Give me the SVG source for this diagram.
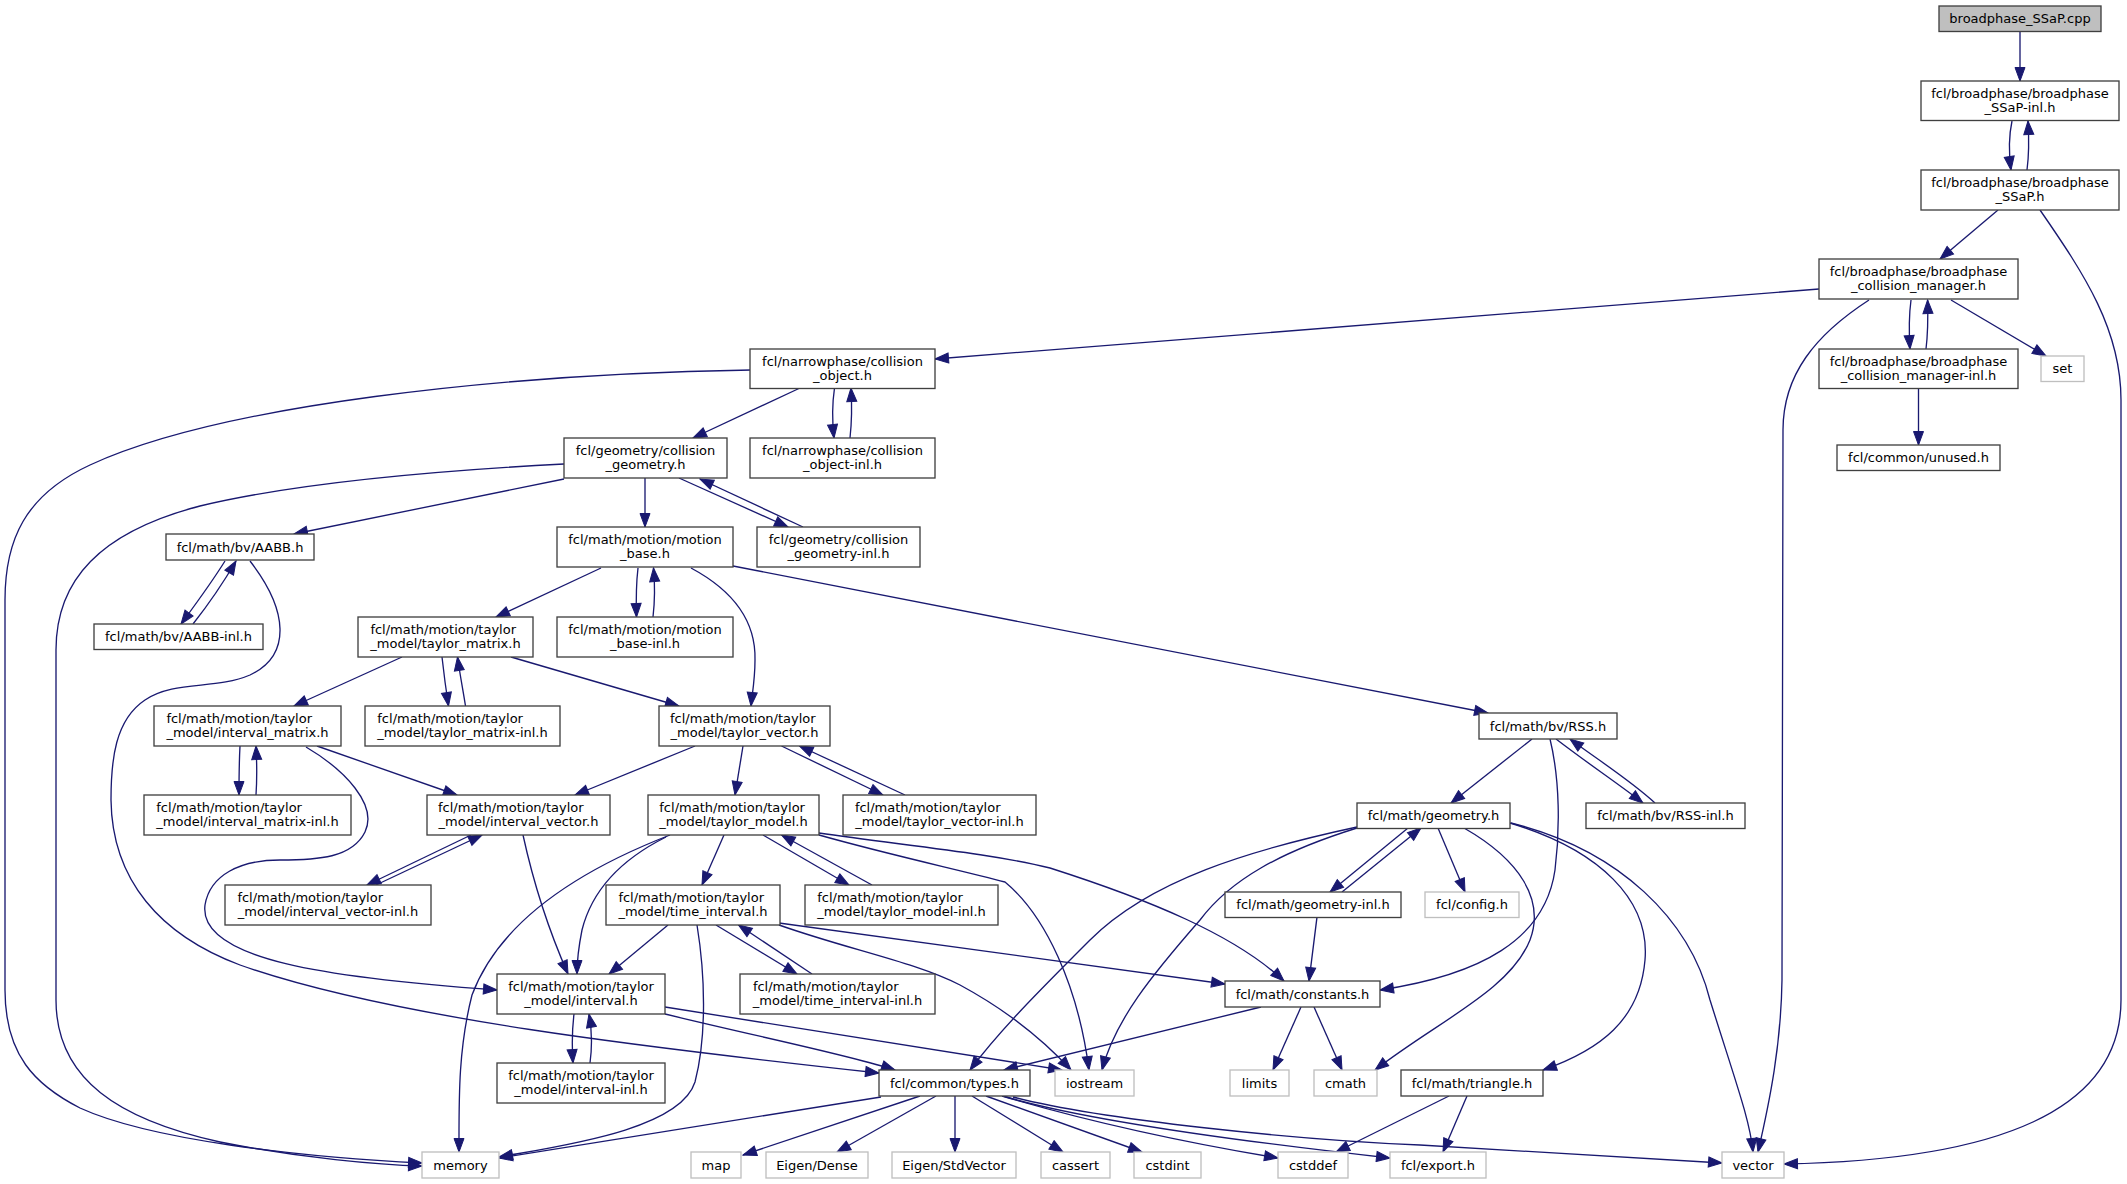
<svg xmlns="http://www.w3.org/2000/svg" width="2127" height="1184" viewBox="0 0 2127 1184">
<style>
.n rect{fill:#fff;stroke:#404040;stroke-width:1.33}
.x rect{fill:#fff;stroke:#bfbfbf;stroke-width:1.33}
.r rect{fill:#bfbfbf;stroke:#404040;stroke-width:1.33}
text{font-family:"DejaVu Sans",sans-serif;font-size:13px;fill:#000;text-anchor:middle}
text.s{text-anchor:start}
#edges path{fill:none;stroke:#191970;stroke-width:1.33;marker-end:url(#ah)}
</style>
<defs>
<marker id="ah" markerUnits="userSpaceOnUse" markerWidth="16" markerHeight="12" viewBox="-1 -1 16 12" refX="13.5" refY="5" orient="auto">
<path d="M0,0 L13.5,5 L0,10 z" fill="#191970" stroke="#191970" stroke-width="1"/>
</marker>
</defs>
<rect width="2127" height="1184" fill="#fff"/>
<g id="edges">
<path d="M2020,31 L2020,81"/>
<path d="M2012,121 C2009,135 2009,155 2011,170"/>
<path d="M2027,170 C2029,155 2029,138 2028,121"/>
<path d="M1998,210 L1940,259"/>
<path d="M2040,210 C2085,275 2121,330 2121,400 L2121,1000 C2121,1110 2000,1160 1784,1164"/>
<path d="M1819,289 L935,359"/>
<path d="M1869,300 C1815,335 1783,375 1783,430 L1782,980 C1781,1045 1770,1100 1758,1152"/>
<path d="M1911,300 C1909,315 1909,333 1910,349"/>
<path d="M1926,349 C1928,333 1928,315 1927.6,300"/>
<path d="M1951,300 L2046,356"/>
<path d="M1918.5,388 L1918.5,445"/>
<path d="M751,370 C500,374 220,405 90,465 C25,495 5,540 5,600 L5,990 C5,1055 35,1085 80,1108 C150,1140 300,1157 422,1163"/>
<path d="M800,388 L693,438"/>
<path d="M834.5,388 C832,405 832,420 834,438"/>
<path d="M850,438 C852,420 852,405 851,388"/>
<path d="M564,464 C450,470 300,482 200,506 C100,532 56,580 56,650 L56,1000 C56,1080 120,1120 220,1142 C300,1158 380,1165 422,1166"/>
<path d="M564,479 L294,534"/>
<path d="M645,478 L645,527"/>
<path d="M679,478 L788,527"/>
<path d="M803,527 L700,479"/>
<path d="M225,561 C210,585 195,605 181,624"/>
<path d="M193,624 C208,605 222,585 236,561"/>
<path d="M250,561 C288,610 292,655 250,675 C215,690 175,680 145,700 C115,720 111,760 111,800 C112,880 160,935 240,965 C390,1018 650,1048 879,1073"/>
<path d="M601,568 L496,617"/>
<path d="M638,568 C636,585 636,600 636.5,617"/>
<path d="M653,617 C655,600 655,585 653.5,568"/>
<path d="M691,568 C732,590 756,620 755,660 C755,680 752,695 751,706"/>
<path d="M733,566 L1488,713"/>
<path d="M402,657 L294,706"/>
<path d="M442,657 C444,675 446,690 448.5,706"/>
<path d="M465.5,706 C463,690 460,675 457.5,657"/>
<path d="M511,657 L679,706"/>
<path d="M240,746 C239,765 239,780 239,795"/>
<path d="M256,795 C257,780 257,765 256,746"/>
<path d="M317,746 L457,795"/>
<path d="M306,747 C345,770 378,805 365,832 C352,858 318,860 280,860 C240,860 210,875 205,905 C198,960 330,978 497,990"/>
<path d="M695,746 L575,795"/>
<path d="M743,746 L735,795"/>
<path d="M781.5,746 L883,795"/>
<path d="M905,795 L799.5,746"/>
<path d="M471,835 L367,885"/>
<path d="M376,885 L482,835"/>
<path d="M523,835 C535,890 553,940 568,974"/>
<path d="M670,835 C580,870 500,920 472,995 C458,1050 459,1100 459,1152"/>
<path d="M666,837 C620,860 592,890 582,930 C578,950 577,960 577,974"/>
<path d="M724,835 L702,885"/>
<path d="M763,835 L849,885"/>
<path d="M872,885 L781.5,835"/>
<path d="M819,835 C890,855 960,870 1005,882 C1045,915 1078,985 1089,1070"/>
<path d="M819,833 C900,845 990,853 1050,868 C1150,900 1235,935 1284,981"/>
<path d="M668,925 L609,974"/>
<path d="M697,925 C706,980 706,1040 695,1082 C680,1130 560,1146 499,1157"/>
<path d="M716,925 L797,974"/>
<path d="M812,974 L738.5,925"/>
<path d="M779,925 C850,950 915,962 960,985 C1010,1012 1048,1045 1071,1070"/>
<path d="M779,923 L1225,984"/>
<path d="M574,1014 C572,1030 572,1048 573,1063"/>
<path d="M590,1063 C592,1048 592,1030 589,1014"/>
<path d="M665,1007 L1062,1070"/>
<path d="M665,1014 C750,1035 850,1055 895,1070"/>
<path d="M1532,739 L1451,803"/>
<path d="M1550,739 C1560,780 1560,830 1555,870 C1545,940 1480,975 1380,990"/>
<path d="M1556,739 C1590,765 1620,785 1643,803"/>
<path d="M1655,803 C1630,780 1598,760 1570,739"/>
<path d="M1357,827 C1250,850 1150,880 1090,940 C1040,990 1000,1030 970,1070"/>
<path d="M1357,828 C1280,852 1230,880 1200,920 C1152,975 1115,1020 1102,1070"/>
<path d="M1408,828 L1330,892"/>
<path d="M1342,892 L1421,828"/>
<path d="M1438,828 L1465,892"/>
<path d="M1464,828 C1520,860 1545,900 1530,940 C1510,990 1440,1020 1375,1070"/>
<path d="M1510,823 C1600,850 1650,900 1645,960 C1640,1020 1600,1050 1543,1070"/>
<path d="M1511,823 C1620,850 1690,920 1710,1000 C1735,1080 1750,1120 1753,1152"/>
<path d="M1317,917 L1309,981"/>
<path d="M1261,1007 L1004,1070"/>
<path d="M1301,1007 L1273,1070"/>
<path d="M1314,1007 L1342,1070"/>
<path d="M1449,1096 L1336,1152"/>
<path d="M1467,1096 L1443,1152"/>
<path d="M881,1097 L499,1158"/>
<path d="M920,1096 L743,1155"/>
<path d="M936,1096 L837,1152"/>
<path d="M955,1096 L955,1152"/>
<path d="M972,1096 L1063,1152"/>
<path d="M986,1096 L1142,1152"/>
<path d="M1002,1096 C1100,1125 1200,1145 1278,1158"/>
<path d="M1003,1096 C1100,1125 1300,1148 1390,1158"/>
<path d="M1013,1097 C1100,1120 1300,1140 1420,1145 C1550,1152 1650,1158 1722,1163"/>
</g>
<g id="n1" class="r"><rect x="1939" y="6" width="162" height="25.5"/><text x="2020" y="23">broadphase_SSaP.cpp</text></g>
<g id="n2" class="n"><rect x="1921" y="81" width="198" height="39.5"/><text x="2020" y="97.5">fcl/broadphase/broadphase</text><text x="2020" y="111.5">_SSaP-inl.h</text></g>
<g id="n3" class="n"><rect x="1921" y="170" width="198" height="40"/><text x="2020" y="187">fcl/broadphase/broadphase</text><text x="2020" y="201">_SSaP.h</text></g>
<g id="n4" class="n"><rect x="1819" y="259" width="199" height="40"/><text x="1918.5" y="276">fcl/broadphase/broadphase</text><text x="1918.5" y="290">_collision_manager.h</text></g>
<g id="n5" class="n"><rect x="1819" y="349" width="199" height="39.5"/><text x="1918.5" y="365.5">fcl/broadphase/broadphase</text><text x="1918.5" y="379.5">_collision_manager-inl.h</text></g>
<g id="n6" class="x"><rect x="2041" y="356" width="43" height="25.5"/><text x="2062.5" y="373">set</text></g>
<g id="n7" class="n"><rect x="1837" y="445" width="163" height="25.5"/><text x="1918.5" y="462">fcl/common/unused.h</text></g>
<g id="n8" class="n"><rect x="750" y="349" width="185" height="39.5"/><text x="842.5" y="365.5">fcl/narrowphase/collision</text><text x="842.5" y="379.5">_object.h</text></g>
<g id="n9" class="n"><rect x="750" y="438" width="185" height="40"/><text x="842.5" y="455">fcl/narrowphase/collision</text><text x="842.5" y="469">_object-inl.h</text></g>
<g id="n10" class="n"><rect x="564" y="438" width="163" height="40"/><text x="645.5" y="455">fcl/geometry/collision</text><text x="645.5" y="469">_geometry.h</text></g>
<g id="n11" class="n"><rect x="757" y="527" width="163" height="40"/><text x="838.5" y="544">fcl/geometry/collision</text><text x="838.5" y="558">_geometry-inl.h</text></g>
<g id="n12" class="n"><rect x="557" y="527" width="176" height="40"/><text x="645" y="544">fcl/math/motion/motion</text><text x="645" y="558">_base.h</text></g>
<g id="n13" class="n"><rect x="166" y="534" width="148" height="26"/><text x="240" y="551.5">fcl/math/bv/AABB.h</text></g>
<g id="n14" class="n"><rect x="94" y="624" width="169" height="25.5"/><text x="178.5" y="641">fcl/math/bv/AABB-inl.h</text></g>
<g id="n15" class="n"><rect x="557" y="617" width="176" height="40"/><text x="645" y="634">fcl/math/motion/motion</text><text x="645" y="648">_base-inl.h</text></g>
<g id="n16" class="n"><rect x="358" y="617" width="175" height="40"/><text class="s" x="370.4" y="634">fcl/math/motion/taylor</text><text x="445.5" y="648">_model/taylor_matrix.h</text></g>
<g id="n17" class="n"><rect x="154" y="706" width="187" height="40"/><text class="s" x="166.4" y="723">fcl/math/motion/taylor</text><text x="247.5" y="737">_model/interval_matrix.h</text></g>
<g id="n18" class="n"><rect x="365" y="706" width="195" height="40"/><text class="s" x="377.3" y="723">fcl/math/motion/taylor</text><text x="462.5" y="737">_model/taylor_matrix-inl.h</text></g>
<g id="n19" class="n"><rect x="659" y="706" width="171" height="40"/><text class="s" x="670" y="723">fcl/math/motion/taylor</text><text x="744.5" y="737">_model/taylor_vector.h</text></g>
<g id="n20" class="n"><rect x="1479" y="713" width="138" height="26"/><text x="1548" y="730.5">fcl/math/bv/RSS.h</text></g>
<g id="n21" class="n"><rect x="144" y="795" width="207" height="40"/><text class="s" x="156.3" y="812">fcl/math/motion/taylor</text><text x="247.5" y="826">_model/interval_matrix-inl.h</text></g>
<g id="n22" class="n"><rect x="427" y="795" width="183" height="40"/><text class="s" x="438" y="812">fcl/math/motion/taylor</text><text x="518.5" y="826">_model/interval_vector.h</text></g>
<g id="n23" class="n"><rect x="648" y="795" width="171" height="40"/><text class="s" x="659.3" y="812">fcl/math/motion/taylor</text><text x="733.5" y="826">_model/taylor_model.h</text></g>
<g id="n24" class="n"><rect x="843" y="795" width="193" height="40"/><text class="s" x="854.9" y="812">fcl/math/motion/taylor</text><text x="939.5" y="826">_model/taylor_vector-inl.h</text></g>
<g id="n25" class="n"><rect x="1357" y="803" width="153" height="25.5"/><text x="1433.5" y="820">fcl/math/geometry.h</text></g>
<g id="n26" class="n"><rect x="1586" y="803" width="159" height="25.5"/><text x="1665.5" y="820">fcl/math/bv/RSS-inl.h</text></g>
<g id="n27" class="n"><rect x="225" y="885" width="206" height="40"/><text class="s" x="237.4" y="902">fcl/math/motion/taylor</text><text x="328" y="916">_model/interval_vector-inl.h</text></g>
<g id="n28" class="n"><rect x="606" y="885" width="174" height="40"/><text class="s" x="618.4" y="902">fcl/math/motion/taylor</text><text x="693" y="916">_model/time_interval.h</text></g>
<g id="n29" class="n"><rect x="805" y="885" width="193" height="40"/><text class="s" x="817.2" y="902">fcl/math/motion/taylor</text><text x="901.5" y="916">_model/taylor_model-inl.h</text></g>
<g id="n30" class="n"><rect x="1225" y="892" width="176" height="25.5"/><text x="1313" y="909">fcl/math/geometry-inl.h</text></g>
<g id="n31" class="x"><rect x="1425" y="892" width="94" height="25.5"/><text x="1472" y="909">fcl/config.h</text></g>
<g id="n32" class="n"><rect x="497" y="974" width="168" height="40"/><text x="581" y="991">fcl/math/motion/taylor</text><text x="581" y="1005">_model/interval.h</text></g>
<g id="n33" class="n"><rect x="740" y="974" width="195" height="40"/><text class="s" x="752.9" y="991">fcl/math/motion/taylor</text><text x="837.5" y="1005">_model/time_interval-inl.h</text></g>
<g id="n34" class="n"><rect x="1225" y="981" width="155" height="26"/><text x="1302.5" y="998.5">fcl/math/constants.h</text></g>
<g id="n35" class="n"><rect x="497" y="1063" width="168" height="40"/><text x="581" y="1080">fcl/math/motion/taylor</text><text x="581" y="1094">_model/interval-inl.h</text></g>
<g id="n36" class="n"><rect x="879" y="1070" width="151" height="26"/><text x="954.5" y="1087.5">fcl/common/types.h</text></g>
<g id="n37" class="x"><rect x="1055" y="1070" width="79" height="26"/><text x="1094.5" y="1087.5">iostream</text></g>
<g id="n38" class="x"><rect x="1230" y="1070" width="59" height="26"/><text x="1259.5" y="1087.5">limits</text></g>
<g id="n39" class="x"><rect x="1314" y="1070" width="63" height="26"/><text x="1345.5" y="1087.5">cmath</text></g>
<g id="n40" class="n"><rect x="1401" y="1070" width="142" height="26"/><text x="1472" y="1087.5">fcl/math/triangle.h</text></g>
<g id="n41" class="x"><rect x="422" y="1152" width="77" height="26"/><text x="460.5" y="1169.5">memory</text></g>
<g id="n42" class="x"><rect x="691" y="1152" width="50" height="26"/><text x="716" y="1169.5">map</text></g>
<g id="n43" class="x"><rect x="766" y="1152" width="102" height="26"/><text x="817" y="1169.5">Eigen/Dense</text></g>
<g id="n44" class="x"><rect x="892" y="1152" width="124" height="26"/><text x="954" y="1169.5">Eigen/StdVector</text></g>
<g id="n45" class="x"><rect x="1041" y="1152" width="69" height="26"/><text x="1075.5" y="1169.5">cassert</text></g>
<g id="n46" class="x"><rect x="1134" y="1152" width="67" height="26"/><text x="1167.5" y="1169.5">cstdint</text></g>
<g id="n47" class="x"><rect x="1278" y="1152" width="70" height="26"/><text x="1313" y="1169.5">cstddef</text></g>
<g id="n48" class="x"><rect x="1390" y="1152" width="96" height="26"/><text x="1438" y="1169.5">fcl/export.h</text></g>
<g id="n49" class="x"><rect x="1722" y="1152" width="62" height="26"/><text x="1753" y="1169.5">vector</text></g>
</svg>
